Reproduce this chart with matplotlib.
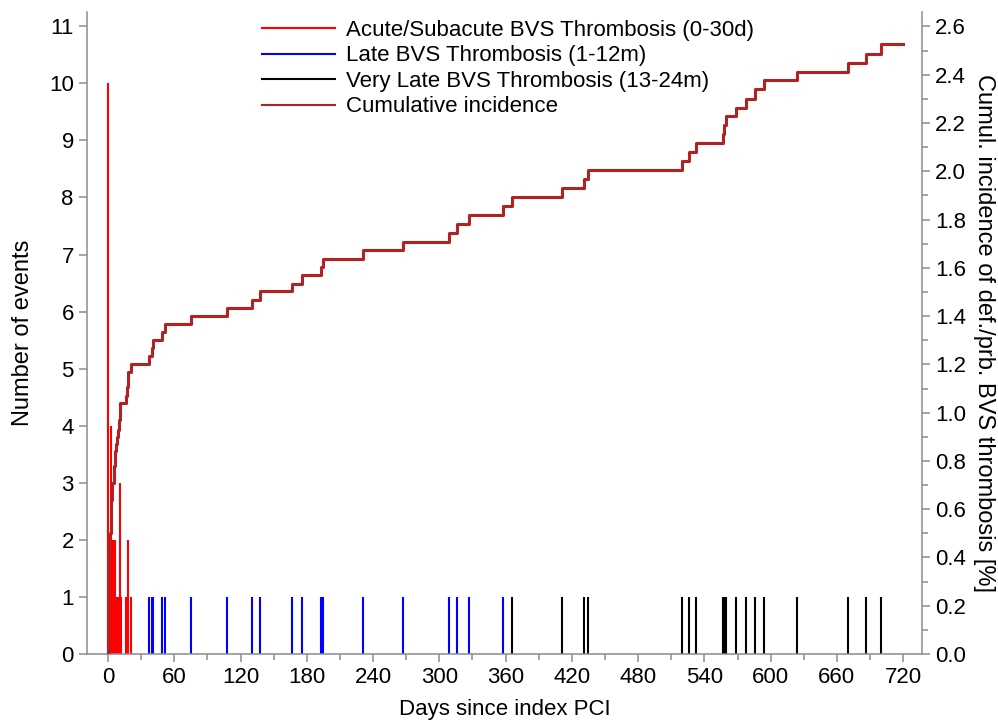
import matplotlib
matplotlib.use("Agg")
import matplotlib.pyplot as plt
from matplotlib.ticker import MultipleLocator, FormatStrFormatter
from matplotlib.lines import Line2D

plt.rcParams['font.family'] = ['Liberation Sans', 'DejaVu Sans']

# Acute/subacute events (0-30 days): day, number of events
acute_days = [0, 1, 2, 3, 4, 5, 6, 7, 8, 9, 10, 11, 12, 16, 18, 21]
acute_counts = [10, 2, 2, 4, 2, 2, 2, 1, 1, 1, 1, 3, 1, 1, 2, 1]

# Late events (1-12 months), one event each
late_days = [37.4, 39.5, 40.4, 48.5, 52, 75, 107.4, 130.7, 138, 166.7, 175.7,
             192.6, 194.4, 231, 267, 309, 316, 327, 357.5]
late_counts = [1] * len(late_days)

# Very late events (13-24 months), one event each
vlate_days = [365.5, 411, 431, 435, 520, 526, 532, 557, 558, 559.5, 568.4, 578,
              585.6, 594.4, 624.3, 670, 686, 700]
vlate_counts = [1] * len(vlate_days)

# Cumulative incidence [%] (step function)
cum_days = [0, 0, 1, 2, 3, 4, 5, 6, 7, 8, 9, 10, 11, 16, 17, 18, 21,
            37.4, 39.5, 40.4, 48.5, 52, 75, 107.4, 130.7, 138, 166.7, 175.7,
            192.6, 194.4, 231, 267, 309, 316, 327, 357.5, 365.5, 411, 431, 435,
            520, 526, 532, 557, 558, 559.5, 568.4, 578, 585.6, 594.4, 624.3,
            670, 686, 700, 720]
cum_vals = [0.0, 0.36, 0.43, 0.50, 0.64, 0.71, 0.78, 0.84, 0.87, 0.90, 0.93, 0.97,
            1.04, 1.07, 1.107, 1.17, 1.20,
            1.234, 1.266, 1.300, 1.333, 1.366, 1.401, 1.434, 1.467, 1.502, 1.535,
            1.569, 1.604, 1.638, 1.673, 1.707, 1.745, 1.782, 1.819, 1.855, 1.892,
            1.930, 1.967, 2.004, 2.043, 2.080, 2.117, 2.156, 2.190, 2.229, 2.264,
            2.301, 2.340, 2.377, 2.412, 2.450, 2.487, 2.526, 2.526]

labels = ["Acute/Subacute BVS Thrombosis (0-30d)",
          "Late BVS Thrombosis (1-12m)",
          "Very Late BVS Thrombosis (13-24m)",
          "Cumulative incidence"]
colors = ["#ff0000", "#0000ff", "#000000", "#b22222"]

spine_col = "#8c8c8c"
fs = 16

fig = plt.figure(figsize=(9.98, 7.23), dpi=100)
ax = fig.add_axes([0.0872, 0.0954, 0.8366, 0.888])
ax2 = ax.twinx()

ax.vlines(acute_days, 0, acute_counts, color=colors[0], lw=1.5)
ax.vlines(late_days, 0, late_counts, color=colors[1], lw=1.5)
ax.vlines(vlate_days, 0, vlate_counts, color=colors[2], lw=1.5)
ax2.plot(cum_days, cum_vals, drawstyle='steps-post', color=colors[3], lw=2.2)

ax.set_xlim(-19, 737)
ax.set_ylim(0, 11.25)
ax2.set_ylim(0, 2.66)

ax.xaxis.set_major_locator(MultipleLocator(60))
ax.xaxis.set_minor_locator(MultipleLocator(30))
ax.yaxis.set_major_locator(MultipleLocator(1))
ax2.yaxis.set_major_locator(MultipleLocator(0.2))
ax2.yaxis.set_minor_locator(MultipleLocator(0.1))
ax2.yaxis.set_major_formatter(FormatStrFormatter('%.1f'))

for a in (ax, ax2):
    a.spines['top'].set_visible(False)
    for s in ('left', 'right', 'bottom'):
        a.spines[s].set_color(spine_col)
        a.spines[s].set_linewidth(1.1)
    a.tick_params(which='major', length=6, width=1.1, color=spine_col,
                  labelsize=fs, direction='out')
    a.tick_params(which='minor', length=4, width=1.1, color=spine_col,
                  direction='out')
ax.spines['right'].set_visible(False)
ax2.spines['left'].set_visible(False)
ax2.spines['bottom'].set_visible(False)

ax.set_xlabel("Days since index PCI", fontsize=fs, labelpad=8)
ax.set_ylabel("Number of events", fontsize=17, labelpad=11)
ax2.set_ylabel("Cumul. incidence of def./prb. BVS thrombosis [%]", fontsize=17,
               rotation=270, labelpad=21)

handles = [Line2D([], [], color=c, lw=1.5) for c in colors]
leg = ax2.legend(handles, labels, loc='upper left', frameon=False, fontsize=fs,
                 bbox_to_anchor=(262 / 998, 1 - 20 / 723),
                 bbox_transform=fig.transFigure, borderpad=0, borderaxespad=0,
                 handlelength=3.3, handletextpad=0.5, labelspacing=0.2)

fig.savefig("out.png", dpi=100)
